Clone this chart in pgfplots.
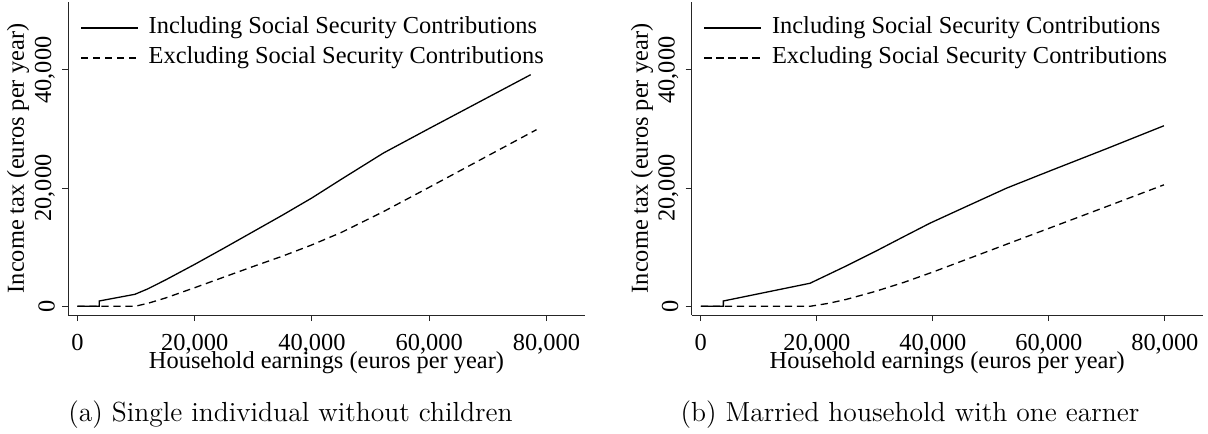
\documentclass[border=0pt]{standalone}
\usepackage{fontspec}
\usepackage{pgfplots}
\pgfplotsset{compat=1.18}
\newfontfamily\chartfont{Liberation Serif}
\newcommand{\chartsize}{\chartfont\fontsize{12.2}{14}\selectfont}

% Stata-like look shared by both panels
\pgfplotsset{
  taxpanel/.style={
    scale only axis,
    height=156.5pt,
    xmin=-1610, xmax=86570,
    ymin=-1473, ymax=51510,
    axis x line=bottom, axis y line=left,
    axis line style={-, line width=0.5pt, black!85},
    tick style={line width=0.5pt, black!85},
    tick align=outside,
    major tick length=3pt,
    xtick={0,20000,40000,60000,80000},
    ytick={0,20000,40000},
    scaled ticks=false,
    /pgf/number format/1000 sep={,},
    /pgf/number format/fixed,
    /pgf/number format/assume math mode=true,
    ticklabel style={font=\chartsize},
    xticklabel style={anchor=base, inner sep=0pt, yshift=-14.65pt},
    yticklabel style={rotate=90, anchor=south},
    every axis x label/.style={at={(axis description cs:0.5,-0.1703)}, anchor=base,
      inner sep=0pt, font=\chartsize},
    every axis y label/.style={at={(axis description cs:-0.0967,0.5)}, rotate=90, anchor=center,
      font=\chartsize},
    xlabel={Household earnings (euros per year)},
    ylabel={Income tax (euros per year)},
    legend cell align=left,
    legend image code/.code={\draw[#1] (0pt,0pt) -- (28.5pt,0pt);},
    legend style={draw=none, fill=none, inner sep=0pt, column sep=5pt, row sep=3.6pt,
      nodes={inner sep=0pt, text height=8.6pt, text depth=2.8pt},
      font=\chartsize,
      at={(axis description cs:0.0232,0.955)}, anchor=north west},
  },
  incl/.style={black, line width=0.65pt},
  excl/.style={black, line width=0.65pt, dash pattern=on 3.6pt off 2.4pt},
}

\pgfplotstableread{
earn tax
0 0
3720 0
3720 900
9800 2030
12000 2950
15000 4450
20000 7100
25000 9850
30000 12650
35000 15450
40000 18350
45000 21500
52200 25950
60000 30100
77300 39200
}\singleincl

\pgfplotstableread{
earn tax
0 0
9800 0
12000 500
15000 1400
20000 3150
25000 4950
30000 6750
35000 8500
40000 10400
45000 12500
52200 16030
60000 20150
78300 29900
}\singleexcl

\pgfplotstableread{
earn tax
0 0
3880 0
3880 900
18820 3900
25000 6800
30000 9250
35000 11800
39500 14070
45000 16550
52700 20000
60000 22850
70000 26700
79830 30560
}\marriedincl

\pgfplotstableread{
earn tax
0 0
18820 0
22000 500
25000 1150
30000 2500
35000 4050
40000 5800
45000 7650
52700 10500
60000 13200
70000 16900
79830 20560
}\marriedexcl

\begin{document}
\begin{tikzpicture}
\useasboundingbox (0,0) rectangle (604pt,-216.5pt);

\begin{axis}[taxpanel, width=258.5pt, at={(34pt,-157.5pt)}, anchor=south west]
  \addplot[incl] table[x=earn, y=tax] {\singleincl};
  \addlegendentry{Including Social Security Contributions}
  \addplot[excl] table[x=earn, y=tax] {\singleexcl};
  \addlegendentry{Excluding Social Security Contributions}
\end{axis}

\begin{axis}[taxpanel, width=255.75pt, at={(345.75pt,-157.5pt)}, anchor=south west]
  \addplot[incl] table[x=earn, y=tax] {\marriedincl};
  \addlegendentry{Including Social Security Contributions}
  \addplot[excl] table[x=earn, y=tax] {\marriedexcl};
  \addlegendentry{Excluding Social Security Contributions}
\end{axis}

\node[font=\fontsize{13.8}{16}\selectfont] at (145.25pt,-207.5pt) {(a) Single individual without children};
\node[font=\fontsize{13.8}{16}\selectfont] at (455pt,-207.5pt) {(b) Married household with one earner};
\end{tikzpicture}
\end{document}
